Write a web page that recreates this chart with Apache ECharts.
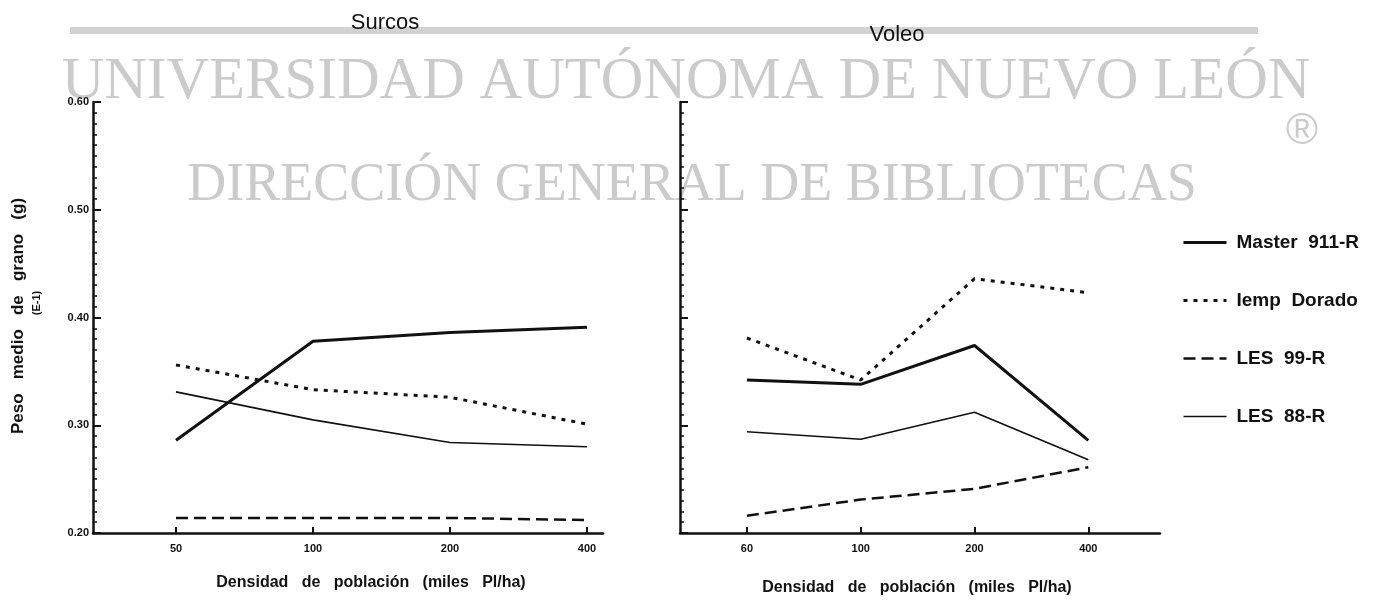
<!DOCTYPE html>
<html>
<head>
<meta charset="utf-8">
<script src="https://cdn.jsdelivr.net/npm/echarts@6/dist/echarts.min.js"></script>
<style>
html,body{margin:0;padding:0;background:#fff;}
#chart{width:1393px;height:607px;}
</style>
</head>
<body>
<div id="chart"></div>
<script>
// ---- data ----
const leftCats = ['50', '100', '200', '400'];
const rightCats = ['60', '100', '200', '400'];
const seriesNames = ['Master 911-R', 'Iemp Dorado', 'LES 99-R', 'LES 88-R'];
const surcosMaster = [0.286, 0.378, 0.386, 0.391];
const surcosIemp   = [0.356, 0.333, 0.326, 0.301];
const surcosLes99  = [0.214, 0.214, 0.214, 0.212];
const surcosLes88  = [0.331, 0.305, 0.284, 0.280];
const voleoMaster  = [0.342, 0.338, 0.374, 0.286];
const voleoIemp    = [0.381, 0.342, 0.436, 0.423];
const voleoLes99   = [0.216, 0.231, 0.241, 0.261];
const voleoLes88   = [0.294, 0.287, 0.312, 0.268];
const yTickValues  = [0.2, 0.3, 0.4, 0.5, 0.6];
const catIndex = [0, 1, 2, 3];

const ink = '#111';
const font = 'Liberation Sans';

const styles = [
  {width: 3, type: 'solid'},
  {width: 3, type: [4, 6]},
  {width: 2.5, type: [12, 6]},
  {width: 1.6, type: 'solid'}
];

function pts(vals) { return vals.map((v, i) => [catIndex[i], v]); }

function xAxisFor(gridIndex, cats, min, max) {
  return {
    type: 'value', gridIndex: gridIndex, min: min, max: max,
    axisLine: {show: true, onZero: false, lineStyle: {color: ink, width: 2.5}},
    axisTick: {show: true, inside: true, length: 6, customValues: catIndex, lineStyle: {color: ink, width: 2}},
    axisLabel: {show: true, customValues: catIndex, formatter: v => cats[Math.round(v)],
      color: ink, fontFamily: font, fontWeight: 'bold', fontSize: 11, margin: 10},
    splitLine: {show: false}
  };
}
function yAxisFor(gridIndex, showLabels) {
  return {
    type: 'value', gridIndex: gridIndex, min: yTickValues[0], max: yTickValues[yTickValues.length - 1], interval: 0.1,
    axisLine: {show: true, onZero: false, lineStyle: {color: ink, width: 2.5}},
    axisTick: {show: true, inside: true, length: 8, lineStyle: {color: ink, width: 2}},
    minorTick: {show: true, splitNumber: 10, length: 4, lineStyle: {color: ink, width: 1.5}},
    axisLabel: {show: showLabels, formatter: v => v.toFixed(2), color: ink,
      fontFamily: font, fontWeight: 'bold', fontSize: 11, margin: 4},
    splitLine: {show: false}
  };
}

const panels = [
  [surcosMaster, surcosIemp, surcosLes99, surcosLes88],
  [voleoMaster, voleoIemp, voleoLes99, voleoLes88]
];
const series = [];
panels.forEach((arrs, p) => {
  arrs.forEach((vals, k) => {
    series.push({
      type: 'line', name: seriesNames[k], xAxisIndex: p, yAxisIndex: p,
      data: pts(vals), symbol: 'none', z: 5,
      lineStyle: {color: ink, width: styles[k].width, type: styles[k].type},
      itemStyle: {color: ink}
    });
  });
});

const chart = echarts.init(document.getElementById('chart'), null, {renderer: 'canvas'});
chart.setOption({
  animation: false,
  backgroundColor: '#fff',
  grid: [
    {left: 93, top: 102, width: 510, height: 431},
    {left: 680, top: 102, width: 480, height: 431}
  ],
  xAxis: [xAxisFor(0, leftCats, -0.606, 3.117), xAxisFor(1, rightCats, -0.588, 3.63)],
  yAxis: [yAxisFor(0, true), yAxisFor(1, false)],
  legend: {
    orient: 'vertical', left: 1177, top: 228, itemWidth: 43, itemHeight: 14, itemGap: 39,
    data: seriesNames,
    itemStyle: {opacity: 0},
    lineStyle: {width: 'inherit'},
    formatter: n => n.replace(/ /g, '  '),
    textStyle: {color: ink, fontFamily: font, fontSize: 19, fontWeight: 'bold', padding: [0, 0, 0, 5]}
  },
  graphic: [
    {type: 'rect', z: -20, shape: {x: 70, y: 27, width: 1188, height: 7}, style: {fill: '#d2d2d2'}},
    {type: 'text', z: 10, x: 385, y: 23, style: {text: 'Surcos', fill: ink, font: '22px "Liberation Sans Narrow", "Liberation Sans"', align: 'center', verticalAlign: 'middle'}},
    {type: 'text', z: 10, x: 897, y: 35, style: {text: 'Voleo', fill: ink, font: '22px "Liberation Sans Narrow", "Liberation Sans"', align: 'center', verticalAlign: 'middle'}},
    {type: 'text', z: -10, x: 686, y: 82, style: {text: 'UNIVERSIDAD AUTÓNOMA DE NUEVO LEÓN', fill: '#cbcbcb', font: '59px "Liberation Serif"', align: 'center', verticalAlign: 'middle'}},
    {type: 'text', z: -10, x: 692, y: 186, style: {text: 'DIRECCIÓN GENERAL DE BIBLIOTECAS', fill: '#cbcbcb', font: '54px "Liberation Serif"', align: 'center', verticalAlign: 'middle'}},
    {type: 'text', z: -10, x: 1302, y: 132, style: {text: '®', fill: '#cbcbcb', font: '44px "Liberation Sans"', align: 'center', verticalAlign: 'middle'}},
    {type: 'text', z: 10, x: 18, y: 316, rotation: Math.PI / 2, style: {text: 'Peso   medio   de   grano   (g)', fill: ink, font: 'bold 17px "Liberation Sans"', align: 'center', verticalAlign: 'middle'}},
    {type: 'text', z: 10, x: 37, y: 303, rotation: Math.PI / 2, style: {text: '(E-1)', fill: ink, font: 'bold 11px "Liberation Sans"', align: 'center', verticalAlign: 'middle'}},
    {type: 'text', z: 10, x: 371, y: 583, style: {text: 'Densidad   de   población   (miles   Pl/ha)', fill: ink, font: 'bold 16px "Liberation Sans"', align: 'center', verticalAlign: 'middle'}},
    {type: 'text', z: 10, x: 917, y: 588, style: {text: 'Densidad   de   población   (miles   Pl/ha)', fill: ink, font: 'bold 16px "Liberation Sans"', align: 'center', verticalAlign: 'middle'}}
  ],
  series: series
});
</script>
</body>
</html>
